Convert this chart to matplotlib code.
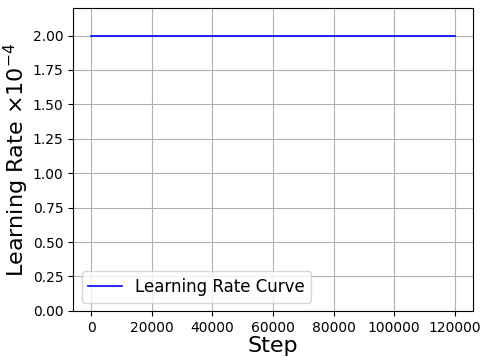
import matplotlib
matplotlib.use("Agg")
import matplotlib.pyplot as plt

# Schedule: constant learning rate
steps = [0, 120000]
lr = [2.0, 2.0]

fig = plt.figure(figsize=(4.88, 3.64), dpi=100)
ax = fig.add_axes([0.150, 0.146, 0.819, 0.832])

ax.plot(steps, lr, color='blue', linewidth=1.2, label='Learning Rate Curve')

ax.set_ylim(0, 2.2)
ax.set_xlabel('Step', fontsize=16, labelpad=1)
ax.set_ylabel(r'Learning Rate $\times 10^{-4}$', fontsize=16, labelpad=1)
ax.tick_params(labelsize=10)
ax.grid(True)
ax.legend(loc='lower left', fontsize=12)

fig.savefig('out.png', dpi=100)
